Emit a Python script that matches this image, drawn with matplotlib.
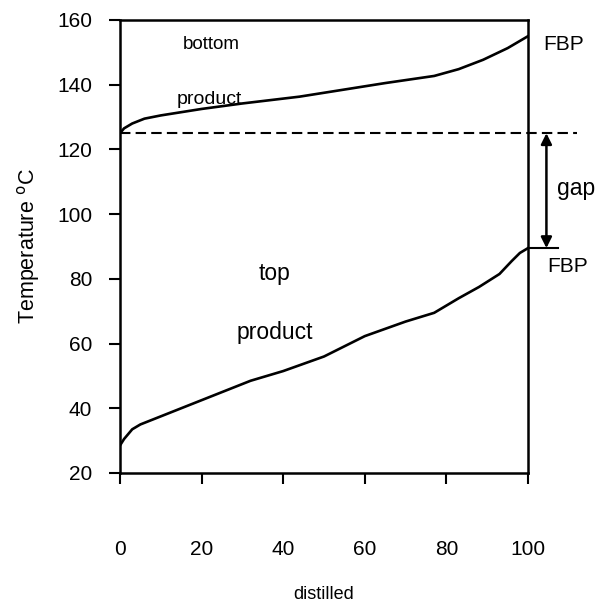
import matplotlib
matplotlib.use("Agg")
import matplotlib.pyplot as plt

plt.rcParams['font.family'] = ['Liberation Sans', 'DejaVu Sans']

# distillation curves: percent distilled vs temperature
bottom_pct = [0, 1, 3, 6, 10, 20, 30, 44, 55, 65, 77, 83, 89, 95, 100]
bottom_temp = [125, 126.5, 128, 129.5, 130.5, 132.5, 134.2, 136.3, 138.5, 140.5, 142.7, 144.8, 147.7, 151.3, 155]

top_pct = [0, 1, 3, 5, 9, 20, 32, 40, 50, 60, 70, 77, 83, 88, 93, 96, 98, 100]
top_temp = [28.5, 30.5, 33.5, 35, 37, 42.5, 48.5, 51.5, 56, 62.3, 66.8, 69.5, 74, 77.5, 81.5, 85.5, 88, 89.5]

gap_top = 125
gap_bottom = 89.5

x_ticks = [0, 20, 40, 60, 80, 100]
y_ticks = [20, 40, 60, 80, 100, 120, 140, 160]

fig = plt.figure(figsize=(5.96, 6.05), dpi=100)
ax = fig.add_axes([0.2013, 0.2182, 0.6847, 0.7488])

ax.plot(bottom_pct, bottom_temp, color='black', linewidth=1.9)
ax.plot(top_pct, top_temp, color='black', linewidth=1.9)

# dashed line at the bottom product IBP, running past the frame
ax.plot([0, 112], [gap_top, gap_top], color='black', linewidth=1.5,
        linestyle=(0, (5, 2.5)), clip_on=False)

# double arrow for the gap
ax.annotate('', xy=(104.5, gap_top), xytext=(104.5, gap_bottom),
            arrowprops=dict(arrowstyle='<|-|>', color='black', lw=1.8,
                            mutation_scale=16, shrinkA=0, shrinkB=0),
            annotation_clip=False)
ax.plot([100, 107.3], [gap_bottom, gap_bottom], color='black', linewidth=1.5,
        clip_on=False)

ax.text(22.5, 152.3, 'bottom', fontsize=13.5, ha='center', va='center')
ax.text(22, 135.5, 'product', fontsize=14, ha='center', va='center')
ax.text(38, 81.8, 'top', fontsize=16.5, ha='center', va='center')
ax.text(38, 63.3, 'product', fontsize=16.5, ha='center', va='center')
ax.text(108.8, 152.3, 'FBP', fontsize=15, ha='center', va='center', clip_on=False)
ax.text(109.6, 83.7, 'FBP', fontsize=15, ha='center', va='center', clip_on=False)
ax.text(111.8, 108, 'gap', fontsize=16.5, ha='center', va='center', clip_on=False)

ax.set_xlim(0, 100)
ax.set_ylim(20, 160)
ax.set_xticks(x_ticks)
ax.set_yticks(y_ticks)
ax.tick_params(axis='x', length=8, width=1.5, pad=40, labelsize=15)
ax.tick_params(axis='y', length=8, width=1.5, pad=12, labelsize=15)
for side in ax.spines.values():
    side.set_linewidth(1.8)

ax.set_xlabel('distilled', fontsize=13, labelpad=20)
ax.set_ylabel('Temperature $^{\\mathrm{o}}$C', fontsize=15.5, labelpad=11)

fig.savefig('out.png', dpi=100)
